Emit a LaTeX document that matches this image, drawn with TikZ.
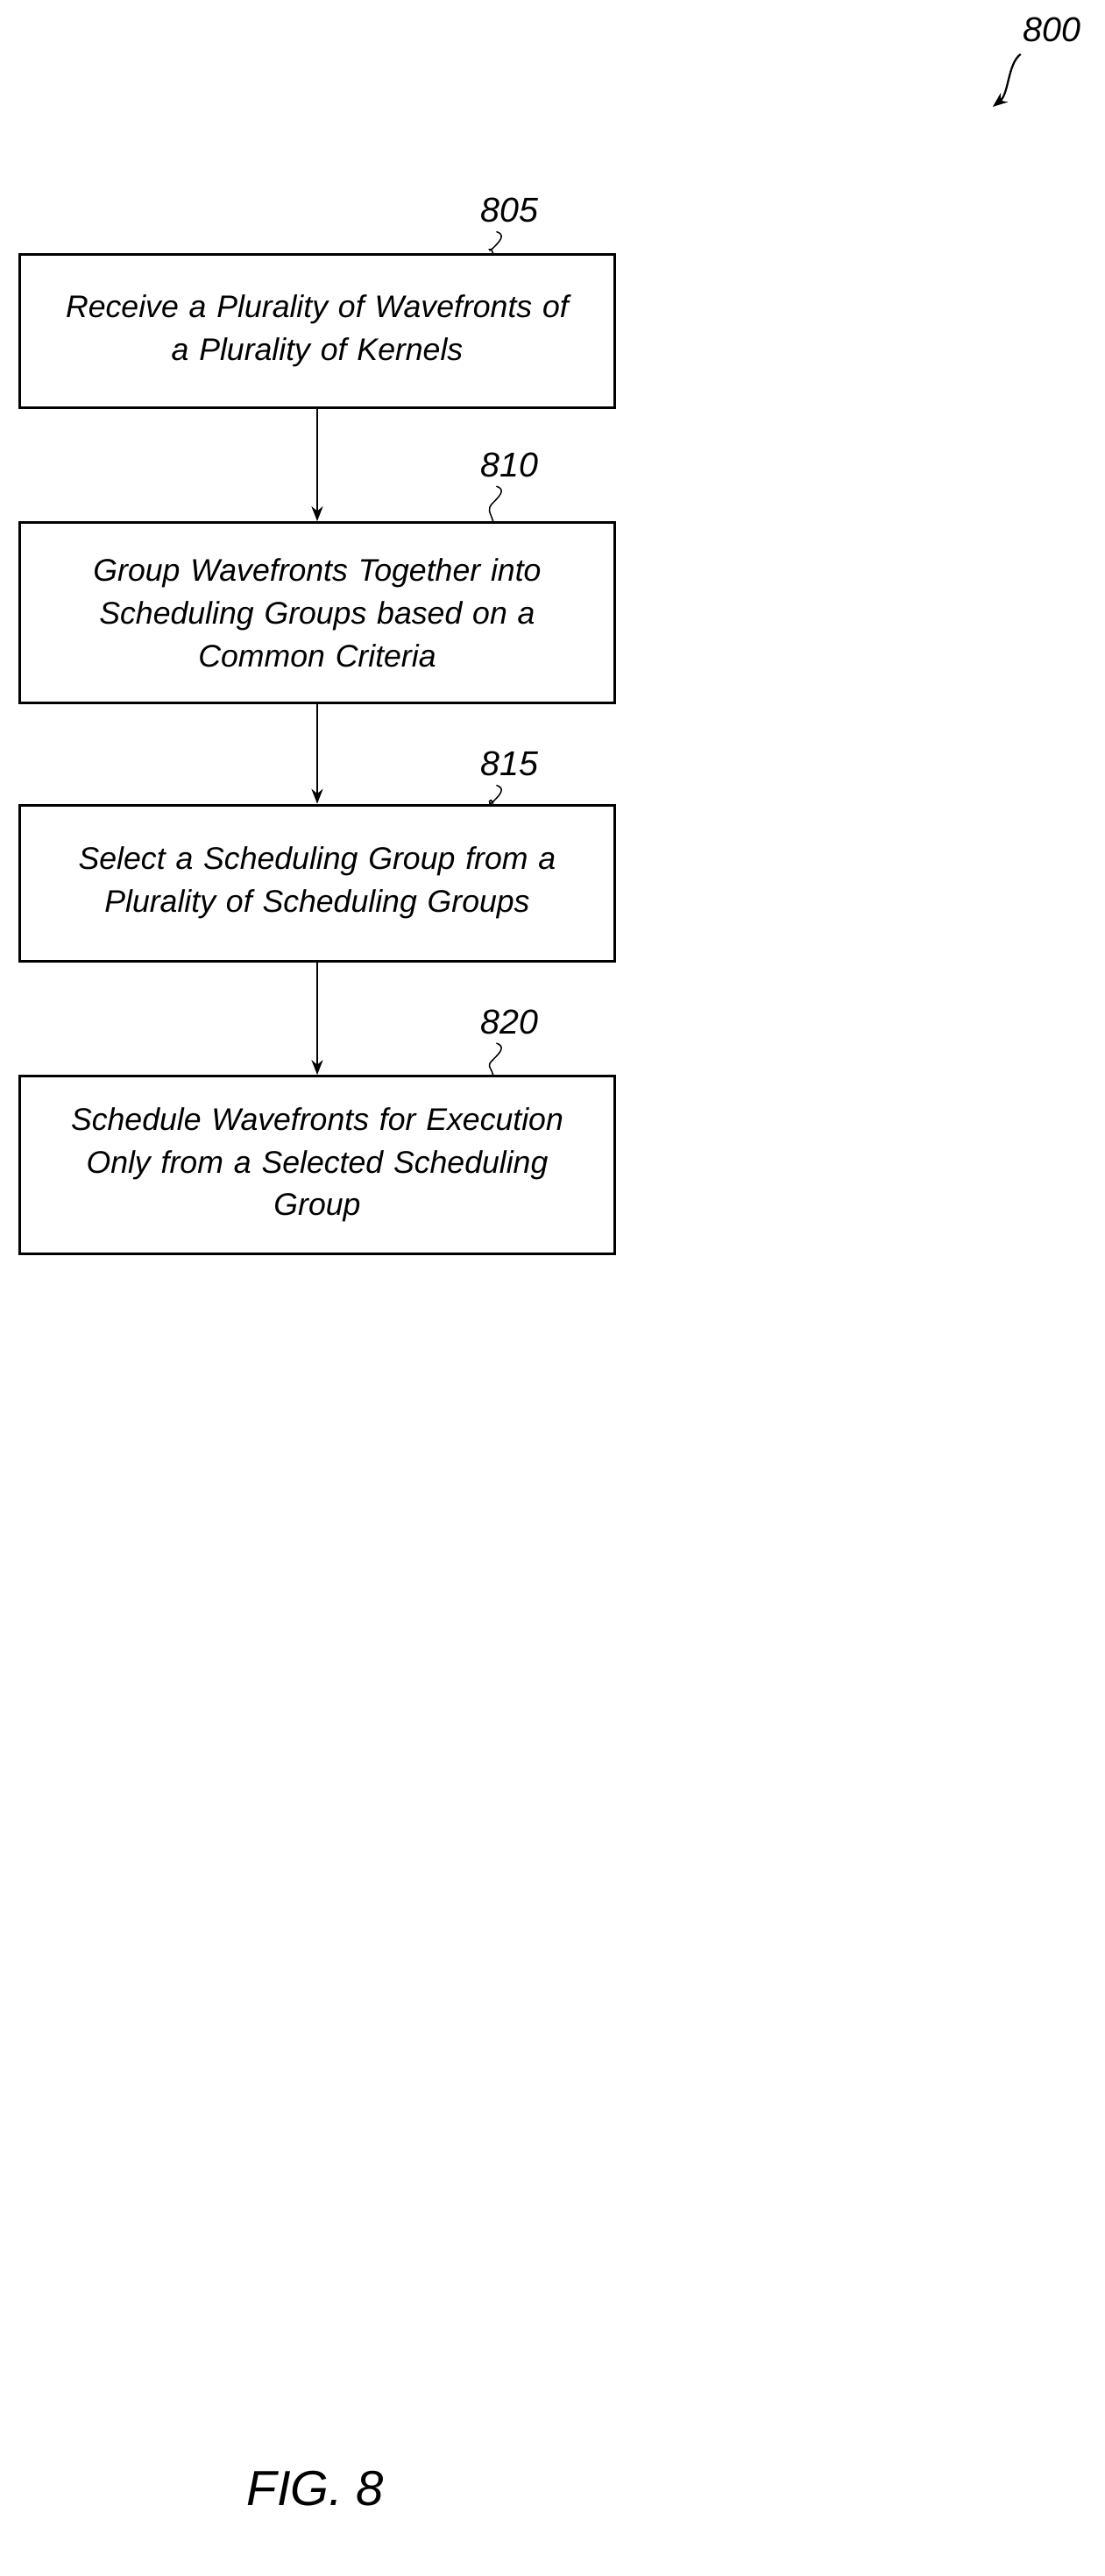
\documentclass[tikz,border=0pt]{standalone}
\usepackage{fontspec}
\setmainfont{Liberation Sans}
\usetikzlibrary{arrows.meta,positioning}

\begin{document}
\begin{tikzpicture}[
    x=1pt, y=-1pt,
    stepbox/.style={rectangle, draw, line width=1.6pt, minimum width=362pt, text width=350pt, align=center,
        font=\fontsize{19}{26}\selectfont\itshape},
    refnum/.style={font=\fontsize{21}{24}\selectfont\itshape},
    flow/.style={-{Stealth[length=9pt,width=7pt]}, line width=1pt},
    squig/.style={line width=0.8pt}
]
\useasboundingbox (0,0) rectangle (672,1568);

\node[stepbox, minimum height=93pt]  (receive)  at (193,201.5) {Receive a Plurality of Wavefronts of\\a Plurality of Kernels};
\node[stepbox, minimum height=110pt] (group)    at (193,373)   {Group Wavefronts Together into\\Scheduling Groups based on a\\Common Criteria};
\node[stepbox, minimum height=95pt]  (select)   at (193,537.5) {Select a Scheduling Group from a\\Plurality of Scheduling Groups};
\node[stepbox, minimum height=108pt] (schedule) at (193,709)   {Schedule Wavefronts for Execution\\Only from a Selected Scheduling\\Group};

\draw[flow] (receive) -- (group);
\draw[flow] (group) -- (select);
\draw[flow] (select) -- (schedule);

% reference numerals
\coordinate (numx) at (300,0);
\foreach \stp/\num/\ly in {receive/805/128, group/810/283, select/815/465, schedule/820/622} {
    \node[refnum] (lbl\num) at (310,\ly) {\num};
    \draw[squig] (lbl\num.south) ++(-8,2) .. controls +(6,2) and +(4,-4) .. ++(-2,10)
        .. controls +(-4,4) and +(-2,-6) .. (\stp.north -| numx);
}

\node[refnum] (fig) at (640,18) {800};
\coordinate (figtip) at (604,65);
\draw[flow, line width=1.2pt] (fig.south west) ++(2,4) .. controls +(-8,6) and +(10,-8) .. (figtip);

\node[font=\fontsize{30}{34}\selectfont\itshape] (caption) at (192,1515) {FIG. 8};
\end{tikzpicture}
\end{document}
